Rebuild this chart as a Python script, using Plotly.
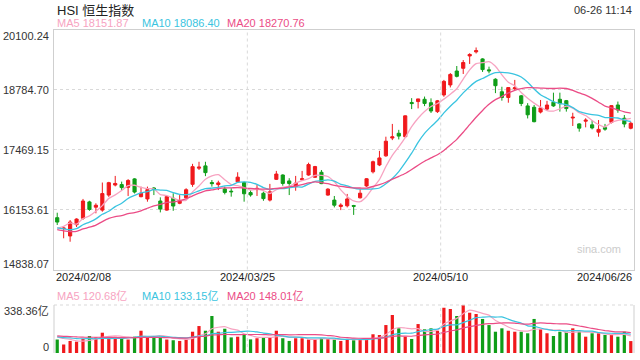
import plotly.graph_objects as go
import pandas as pd

# ---------------- data ----------------
dates = [
    "2024-02-08", "2024-02-09", "2024-02-14", "2024-02-15", "2024-02-16", "2024-02-19", "2024-02-20", "2024-02-21", "2024-02-22", "2024-02-23",
    "2024-02-26", "2024-02-27", "2024-02-28", "2024-02-29", "2024-03-01", "2024-03-04", "2024-03-05", "2024-03-06", "2024-03-07", "2024-03-08",
    "2024-03-11", "2024-03-12", "2024-03-13", "2024-03-14", "2024-03-15", "2024-03-18", "2024-03-19", "2024-03-20", "2024-03-21", "2024-03-22",
    "2024-03-25", "2024-03-26", "2024-03-27", "2024-03-28", "2024-04-02", "2024-04-03", "2024-04-05", "2024-04-08", "2024-04-09", "2024-04-10",
    "2024-04-11", "2024-04-12", "2024-04-15", "2024-04-16", "2024-04-17", "2024-04-18", "2024-04-19", "2024-04-22", "2024-04-23", "2024-04-24",
    "2024-04-25", "2024-04-26", "2024-04-29", "2024-04-30", "2024-05-02", "2024-05-03", "2024-05-06", "2024-05-07", "2024-05-08", "2024-05-09",
    "2024-05-10", "2024-05-13", "2024-05-14", "2024-05-16", "2024-05-17", "2024-05-20", "2024-05-21", "2024-05-22", "2024-05-23", "2024-05-24",
    "2024-05-27", "2024-05-28", "2024-05-29", "2024-05-30", "2024-05-31", "2024-06-03", "2024-06-04", "2024-06-05", "2024-06-06", "2024-06-07",
    "2024-06-11", "2024-06-12", "2024-06-13", "2024-06-14", "2024-06-17", "2024-06-18", "2024-06-19", "2024-06-20", "2024-06-21", "2024-06-24",
]
opens = [
    15974, 15735, 15573, 15820, 15960, 16320, 16205, 16140, 16470, 16690,
    16700, 16640, 16825, 16435, 16385, 16625, 16340, 16140, 16400, 16290,
    16410, 16705, 17060, 17110, 16745, 16700, 16605, 16555, 16760, 16745,
    16525, 16590, 16510, 16360, 16815, 16910, 16780, 16655, 16805, 16910,
    16860, 16970, 16470, 16360, 16220, 16235, 16240, 16410, 16670, 16980,
    17130, 17330, 17720, 17825, 17750, 18500, 18520, 18570, 18495, 18300,
    18665, 18885, 19190, 19250, 19520, 19610, 19455, 19215, 19010, 18735,
    18610, 18800, 18645, 18425, 18395, 18290, 18355, 18505, 18570, 18540,
    18160, 18030, 18090, 18010, 17850, 17950, 18065, 18445, 18155, 17935,
]
highs = [
    16083, 15765, 15923, 15960, 16385, 16345, 16290, 16745, 16760, 16890,
    16765, 16820, 16840, 16655, 16655, 16645, 16420, 16450, 16510, 16470,
    16620, 17155, 17200, 17200, 16800, 16785, 16655, 16620, 16970, 16765,
    16580, 16690, 16545, 16715, 17000, 16925, 16840, 16890, 17000, 17180,
    17110, 17020, 16620, 16450, 16290, 16495, 16255, 16600, 16840, 17225,
    17440, 17750, 18030, 17900, 18215, 18595, 18580, 18630, 18590, 18555,
    18995, 19145, 19300, 19430, 19580, 19706, 19470, 19285, 19030, 18845,
    18830, 18995, 18665, 18485, 18445, 18555, 18535, 18715, 18715, 18555,
    18275, 18045, 18155, 18115, 18115, 18030, 18440, 18520, 18225, 18079,
]
lows = [
    15814, 15522, 15447, 15770, 15925, 16125, 16070, 16105, 16430, 16660,
    16580, 16450, 16505, 16420, 16325, 16470, 16090, 16125, 16125, 16270,
    16395, 16650, 17020, 16885, 16655, 16580, 16485, 16435, 16740, 16325,
    16435, 16450, 16345, 16330, 16800, 16675, 16470, 16565, 16785, 16895,
    16845, 16710, 16455, 16200, 16140, 16200, 16035, 16395, 16650, 16945,
    17105, 17310, 17675, 17690, 17735, 18355, 18370, 18420, 18270, 18270,
    18625, 18830, 19050, 19125, 19345, 19575, 19170, 19140, 18705, 18540,
    18495, 18770, 18420, 18150, 18065, 18260, 18320, 18405, 18300, 18300,
    17985, 17860, 17955, 17910, 17750, 17880, 18040, 18275, 17955, 17912,
]
closes = [
    15878, 15746, 15879, 15944, 16340, 16155, 16247, 16503, 16742, 16725,
    16634, 16790, 16536, 16511, 16589, 16595, 16163, 16438, 16230, 16353,
    16587, 17093, 17082, 16962, 16720, 16737, 16529, 16543, 16863, 16499,
    16473, 16618, 16392, 16541, 16931, 16725, 16724, 16732, 16828, 17139,
    17095, 16721, 16600, 16248, 16251, 16385, 16224, 16511, 16828, 17201,
    17284, 17651, 17747, 17763, 18207, 18476, 18578, 18479, 18313, 18537,
    18963, 19115, 19073, 19376, 19553, 19636, 19221, 19195, 18868, 18609,
    18827, 18821, 18477, 18230, 18079, 18380, 18444, 18425, 18476, 18366,
    18176, 17937, 18112, 17942, 17910, 17915, 18431, 18335, 18028, 18045,
]
# closes of the 19 sessions before the window (needed for the moving averages)
pre_closes = [16244, 16217, 15866, 15277, 15391, 15309, 14961, 15353, 15900, 16212,
              15952, 16078, 15704, 15485, 15567, 15534, 15510, 16082, 15709]

volumes = [  # 亿
    95, 60, 85, 80, 100, 120, 110, 143, 115, 115,
    104, 95, 115, 157, 108, 115, 115, 95, 90, 85,
    95, 150, 190, 157, 261, 150, 171, 110, 115, 132,
    96, 104, 108, 108, 157, 104, 85, 104, 104, 95,
    95, 105, 100, 95, 85, 99, 90, 99, 95, 132,
    127, 197, 268, 174, 115, 99, 204, 167, 174, 157,
    319, 310, 261, 338, 284, 275, 240, 197, 150, 174,
    157, 150, 150, 139, 240, 167, 139, 120, 150, 150,
    174, 150, 115, 139, 139, 127, 127, 115, 150, 84,
]
# volumes of the 19 sessions before the window (needed for the moving averages)
pre_volumes = [120, 130, 125, 140, 120, 115, 150, 130, 125, 120,
               115, 110, 120, 115, 110, 120, 115, 130, 110]

x_tick_labels = ["2024/02/08", "2024/03/25", "2024/05/10", "2024/06/26"]
price_ticks = [20100.24, 18784.70, 17469.15, 16153.61, 14838.07]
vol_ticks = [338.36, 0]
ma_price_labels = [("MA5", "18151.87"), ("MA10", "18086.40"), ("MA20", "18270.76")]
ma_vol_labels = [("MA5", "120.68亿"), ("MA10", "133.15亿"), ("MA20", "148.01亿")]

# ---------------- styling ----------------
RED = "#f0191c"
GREEN = "#0f9d18"
MA_COLORS = ["#f7a3c1", "#3ac4e0", "#eb4c86"]
GRID = "#d9d9d9"
FRAME = "#cfcfcf"
FONT = "Arial, 'Liberation Sans', 'Noto Sans CJK SC', sans-serif"
W, H = 640, 360
L, R = 54, 634
MAIN_T, MAIN_B = 29.5, 269.5
VOL_T, VOL_B = 305, 353


def py(v):
    return 1 - v / H


def px(v):
    return v / W


all_close = pd.Series(pre_closes + closes)
all_vol = pd.Series(pre_volumes + volumes)
n_pre = len(pre_closes)
ma_close = {p: all_close.rolling(p, min_periods=1).mean().iloc[n_pre:].tolist() for p in (5, 10, 20)}
ma_vol = {p: all_vol.rolling(p, min_periods=1).mean().iloc[len(pre_volumes):].tolist() for p in (5, 10, 20)}

fig = go.Figure()

fig.add_trace(go.Candlestick(
    x=dates, open=opens, high=highs, low=lows, close=closes,
    increasing=dict(line=dict(color=RED, width=1), fillcolor=RED),
    decreasing=dict(line=dict(color=GREEN, width=1), fillcolor=GREEN),
    whiskerwidth=0, xaxis="x", yaxis="y", showlegend=False, name="HSI",
))
for (p, col) in zip((5, 10, 20), MA_COLORS):
    fig.add_trace(go.Scatter(x=dates, y=ma_close[p], mode="lines",
                             line=dict(color=col, width=1.3, shape="spline", smoothing=0.6),
                             xaxis="x", yaxis="y", showlegend=False, hoverinfo="skip"))

vol_colors = [RED if c >= o else GREEN for o, c in zip(opens, closes)]
fig.add_trace(go.Bar(x=dates, y=volumes, marker=dict(color=vol_colors, line=dict(width=0)),
                     width=0.5, xaxis="x2", yaxis="y2", showlegend=False))
for (p, col) in zip((5, 10, 20), MA_COLORS):
    fig.add_trace(go.Scatter(x=dates, y=ma_vol[p], mode="lines",
                             line=dict(color=col, width=1.2, shape="spline", smoothing=0.6),
                             xaxis="x2", yaxis="y2", showlegend=False, hoverinfo="skip"))

xdom = [px(L), px(R)]
n = len(dates)
common_x = dict(type="category", range=[-0.5, n - 0.5], showgrid=False, showticklabels=False,
                zeroline=False, fixedrange=True)
fig.update_layout(
    width=W, height=H, margin=dict(l=0, r=0, t=0, b=0),
    paper_bgcolor="white", plot_bgcolor="white",
    font=dict(family=FONT, size=11, color="#333"),
    bargap=0.3,
    xaxis=dict(domain=xdom, anchor="y", rangeslider=dict(visible=False),
               showline=True, mirror=True, linecolor=FRAME, linewidth=1, **common_x),
    yaxis=dict(domain=[py(MAIN_B), py(MAIN_T)], range=[price_ticks[-1], price_ticks[0]],
               tickvals=price_ticks[1:-1], showticklabels=False, showgrid=True,
               gridcolor=GRID, griddash="dot", gridwidth=1, zeroline=False,
               showline=True, mirror=True, linecolor=FRAME, linewidth=1, fixedrange=True),
    xaxis2=dict(domain=xdom, anchor="y2", matches="x", showline=False, **common_x),
    yaxis2=dict(domain=[py(VOL_B), py(VOL_T)], range=[vol_ticks[1], vol_ticks[0]],
                showticklabels=False, showgrid=False, zeroline=False, showline=False,
                fixedrange=True),
)

shapes = []
# volume panel frame: dotted top, solid left and right
shapes.append(dict(type="line", xref="paper", yref="paper", x0=px(L), x1=px(R), y0=py(VOL_T), y1=py(VOL_T),
                   line=dict(color=GRID, width=1, dash="dot")))
for xv in (L, R):
    shapes.append(dict(type="line", xref="paper", yref="paper", x0=px(xv), x1=px(xv), y0=py(VOL_B), y1=py(VOL_T),
                       line=dict(color=FRAME, width=1)))
# vertical dashed separators at 1/3 and 2/3 of the width
for frac in (1 / 3, 2 / 3):
    xx = px(L + (R - L) * frac)
    for (t, b) in ((MAIN_T, MAIN_B), (VOL_T, VOL_B)):
        shapes.append(dict(type="line", xref="paper", yref="paper", x0=xx, x1=xx, y0=py(b), y1=py(t),
                           line=dict(color=GRID, width=1, dash="3px,3px")))
fig.update_layout(shapes=shapes)

ann = []
ann.append(dict(text="HSI 恒生指数", x=px(55), y=py(10), xref="paper", yref="paper",
                xanchor="left", yanchor="middle", showarrow=False, font=dict(size=13, color="#222")))
ann.append(dict(text="06-26 11:14", x=px(634), y=py(10), xref="paper", yref="paper",
                xanchor="right", yanchor="middle", showarrow=False, font=dict(size=11, color="#333")))
ma_x = [55, 140, 225]
for (name, val), col, xx in zip(ma_price_labels, MA_COLORS, ma_x):
    ann.append(dict(text=f"{name} {val}", x=px(xx), y=py(23), xref="paper", yref="paper",
                    xanchor="left", yanchor="middle", showarrow=False, font=dict(size=11, color=col)))
for (name, val), col, xx in zip(ma_vol_labels, MA_COLORS, ma_x):
    ann.append(dict(text=f"{name} {val}", x=px(xx), y=py(296), xref="paper", yref="paper",
                    xanchor="left", yanchor="middle", showarrow=False, font=dict(size=11, color=col)))
# price axis labels
for i, v in enumerate(price_ticks):
    shift = -6 if i == 0 else (6 if i == len(price_ticks) - 1 else 0)
    ann.append(dict(text=f"{v:.2f}", x=px(51), y=v, xref="paper", yref="y", yshift=shift,
                    xanchor="right", yanchor="middle", showarrow=False, font=dict(size=11, color="#333")))
# volume axis labels
ann.append(dict(text=f"{vol_ticks[0]:.2f}亿", x=px(51), y=vol_ticks[0], xref="paper", yref="y2", yshift=-6,
                xanchor="right", yanchor="middle", showarrow=False, font=dict(size=11, color="#333")))
ann.append(dict(text="0", x=px(51), y=vol_ticks[1], xref="paper", yref="y2", yshift=6,
                xanchor="right", yanchor="middle", showarrow=False, font=dict(size=11, color="#333")))
# date labels
anchors = ["left", "center", "center", "right"]
for lab, frac, anc in zip(x_tick_labels, (0, 1 / 3, 2 / 3, 1), anchors):
    ann.append(dict(text=lab, x=px(L + (R - L) * frac), y=py(277), xref="paper", yref="paper",
                    xanchor=anc, yanchor="middle", showarrow=False, font=dict(size=11, color="#222")))
ann.append(dict(text="sina.com", x=px(623), y=py(249), xref="paper", yref="paper",
                xanchor="right", yanchor="middle", showarrow=False, font=dict(size=11, color="#cccccc")))
fig.update_layout(annotations=ann)

fig.write_html("out.html", config={"displayModeBar": False, "staticPlot": True},
               post_script="document.body.style.margin='0';")
